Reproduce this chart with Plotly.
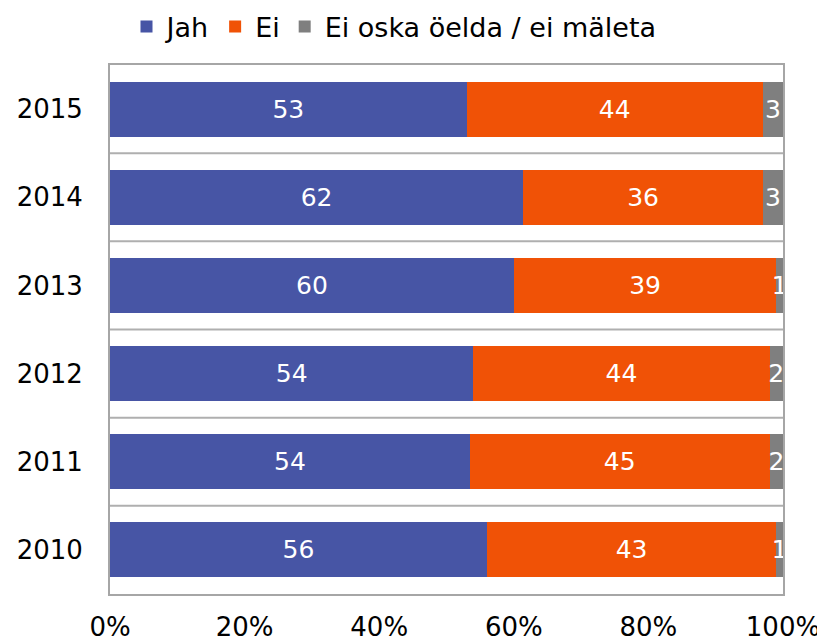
import plotly.graph_objects as go

years = ["2010", "2011", "2012", "2013", "2014", "2015"]
jah = [56, 54, 54, 60, 62, 53]
ei = [43, 45, 44, 39, 36, 44]
ei_oska = [1, 2, 2, 1, 3, 3]
x_ticks = [0, 20, 40, 60, 80, 100]

series = [
    ("Jah", jah, "#4755A5"),
    ("Ei", ei, "#F05206"),
    ("Ei oska öelda / ei mäleta", ei_oska, "#7F7F7F"),
]

FONT = "DejaVu Sans"

fig = go.Figure()
for name, vals, col in series:
    fig.add_trace(go.Bar(
        y=years, x=vals, name=name, orientation="h",
        marker=dict(color=col, line=dict(width=0)),
        text=[str(v) for v in vals], textposition="inside",
        insidetextanchor="middle",
        textfont=dict(color="white", size=25, family=FONT),
        hoverinfo="skip",
    ))

shapes = []
for i in range(1, len(years)):
    shapes.append(dict(type="line", xref="paper", yref="y", x0=0, x1=1,
                       y0=i - 0.5, y1=i - 0.5,
                       line=dict(color="#AFAFAF", width=2), layer="below"))

fig.update_layout(
    width=825, height=643,
    barmode="stack", barnorm="percent", bargap=0.377,
    plot_bgcolor="white", paper_bgcolor="white",
    margin=dict(l=102, r=50, t=57, b=57),
    font=dict(family=FONT, size=26, color="black"),
    uniformtext=dict(mode="show", minsize=25),
    legend=dict(orientation="h", x=386 / 825, xanchor="center", y=1 - 19 / 643,
                yanchor="middle", yref="container", xref="container",
                font=dict(size=27), itemwidth=30,
                traceorder="normal", tracegroupgap=0, itemclick=False),
    shapes=shapes,
    showlegend=True,
)
fig.update_xaxes(range=[0, 100], tickvals=x_ticks, ticktext=[f"{v}%" for v in x_ticks],
                 showgrid=False, zeroline=False, showline=True, mirror=True,
                 linecolor="#A6A6A6", linewidth=2, ticks="outside", ticklen=9,
                 tickcolor="rgba(0,0,0,0)", tickfont=dict(size=26), automargin=False)
fig.update_yaxes(showgrid=False, showline=True, mirror=True, linecolor="#A6A6A6",
                 linewidth=2, ticks="outside", ticklen=20, tickcolor="rgba(0,0,0,0)",
                 tickfont=dict(size=26), categoryorder="array", categoryarray=years,
                 automargin=False)

fig.write_html("out.html")
